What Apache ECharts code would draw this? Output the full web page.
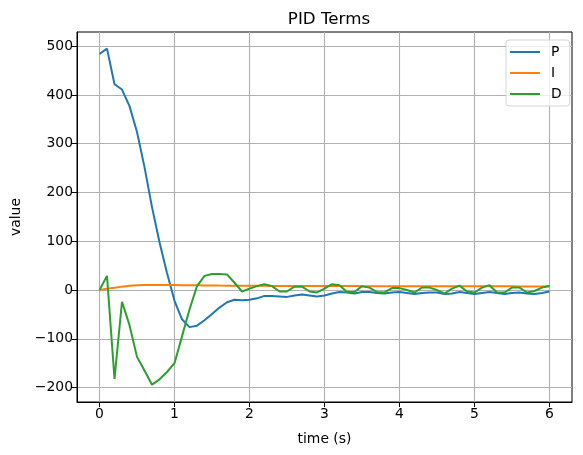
<!DOCTYPE html>
<html>
  <head>
    <meta charset="utf-8" />
    <title>PID Terms</title>
    <script src="https://cdn.jsdelivr.net/npm/echarts@6.0.0/dist/echarts.min.js"></script>
    <style>
      html, body { margin: 0; padding: 0; background: #fff; }
      #main { width: 583px; height: 455px; }
    </style>
  </head>
  <body>
    <div id="main"></div>
    <script>
      // time samples (s)
      var timeVals = [
        0.0, 0.1, 0.2, 0.3, 0.4, 0.5, 0.6, 0.7, 0.8, 0.9,
        1.0, 1.1, 1.2, 1.3, 1.4, 1.5, 1.6, 1.7, 1.8, 1.9,
        2.0, 2.1, 2.2, 2.3, 2.4, 2.5, 2.6, 2.7, 2.8, 2.9,
        3.0, 3.1, 3.2, 3.3, 3.4, 3.5, 3.6, 3.7, 3.8, 3.9,
        4.0, 4.1, 4.2, 4.3, 4.4, 4.5, 4.6, 4.7, 4.8, 4.9,
        5.0, 5.1, 5.2, 5.3, 5.4, 5.5, 5.6, 5.7, 5.8, 5.9,
        6.0
      ]
      var pVals = [
        484, 495, 422, 411, 377, 324, 252, 170, 98, 35,
        -22, -60, -76, -73, -62, -49, -36, -25, -20, -21,
        -20, -17, -12, -12, -13, -14, -11, -9, -11, -13,
        -11, -7, -4, -5, -7, -4, -4, -6, -7, -5,
        -4, -6, -8, -6, -5, -5, -8, -7, -4, -6,
        -8, -6, -4, -6, -8, -6, -5, -7, -8, -6,
        -3
      ]
      var iVals = [
        0, 2.5, 4.8, 7, 8.8, 9.8, 10.2, 10.4, 10.4, 10.3,
        10.2, 10.0, 9.8, 9.6, 9.4, 9.3, 9.1, 9.0, 8.9, 8.8,
        8.7, 8.6, 8.6, 8.5, 8.5, 8.4, 8.4, 8.3, 8.3, 8.3,
        8.2, 8.2, 8.1, 8.1, 8.1, 8.0, 8.0, 8.0, 7.9, 7.9,
        7.9, 7.9, 7.8, 7.8, 7.8, 7.8, 7.7, 7.7, 7.7, 7.7,
        7.7, 7.6, 7.6, 7.6, 7.6, 7.6, 7.5, 7.5, 7.5, 7.5,
        7.5
      ]
      var dVals = [
        0, 29, -182, -24, -72, -137, -165, -194, -183, -168,
        -150, -95, -40, 8, 29, 33, 33, 32, 15, -3,
        3, 8, 12, 8, -3, -3, 7, 7, -3, -5,
        3, 12, 10, -4, -4, 8, 5, -4, -5, 4,
        4, 0, -5, 5, 5, 0, -7, 3, 9, -3,
        -5, 5, 10, -5, -5, 5, 5, -5, -2, 5,
        9
      ]
      var xTicks = [0, 1, 2, 3, 4, 5, 6]
      var yTicks = [-200, -100, 0, 100, 200, 300, 400, 500]

      function pairs(ys) {
        var out = []
        for (var i = 0; i < timeVals.length; i++) out.push([timeVals[i], ys[i]])
        return out
      }

      var font = 'DejaVu Sans'
      var myChart = echarts.init(document.getElementById('main'), null, { renderer: 'canvas' })

      var option = {
        animation: false,
        backgroundColor: '#fff',
        title: {
          text: 'PID Terms',
          left: 324,
          top: 6,
          textAlign: 'center',
          textStyle: { fontFamily: font, fontSize: 16.7, fontWeight: 'normal', color: '#000' }
        },
        grid: {
          left: 77, right: 11, top: 32, bottom: 53,
          outerBoundsMode: 'none',
          containLabel: false,
          show: true, borderColor: '#000', borderWidth: 1, backgroundColor: 'transparent'
        },
        legend: {
          orient: 'vertical',
          left: 506,
          top: 40,
          padding: [4, 8, 4, 4],
          itemGap: 5,
          itemWidth: 30,
          itemHeight: 2,
          icon: 'rect',
          backgroundColor: 'rgba(255,255,255,0.8)',
          borderColor: '#d5d5d5',
          borderWidth: 1,
          borderRadius: 3,
          textStyle: { fontFamily: font, fontSize: 13.9, color: '#000', padding: [0, 0, 0, 6], lineHeight: 16 },
          data: ['P', 'I', 'D']
        },
        xAxis: {
          type: 'value',
          min: -0.3,
          max: 6.3,
          name: 'time (s)',
          nameLocation: 'middle',
          nameGap: 30,
          nameTextStyle: { fontFamily: font, fontSize: 13.9, color: '#000' },
          axisLine: { show: true, onZero: false, lineStyle: { color: '#000', width: 1 } },
          axisTick: { show: true, length: 5, customValues: xTicks, lineStyle: { color: '#000', width: 1 } },
          axisLabel: { customValues: xTicks, margin: 5, fontFamily: font, fontSize: 13.9, color: '#000' },
          splitLine: { show: true, lineStyle: { color: '#b0b0b0', width: 1.1 } }
        },
        yAxis: {
          type: 'value',
          min: -229.5,
          max: 529,
          name: 'value',
          nameLocation: 'middle',
          nameGap: 54,
          nameRotate: 90,
          nameTextStyle: { fontFamily: font, fontSize: 13.9, color: '#000' },
          axisLine: { show: true, onZero: false, lineStyle: { color: '#000', width: 1 } },
          axisTick: { show: true, length: 5, customValues: yTicks, lineStyle: { color: '#000', width: 1 } },
          axisLabel: {
            customValues: yTicks,
            margin: 4,
            fontFamily: font,
            fontSize: 13.9,
            color: '#000',
            formatter: function (v) { return String(v).replace('-', '\u2212') }
          },
          splitLine: { show: true, lineStyle: { color: '#b0b0b0', width: 1.1 } }
        },
        series: [
          {
            name: 'P', type: 'line', data: pairs(pVals), showSymbol: false,
            color: '#1f77b4', lineStyle: { width: 2, color: '#1f77b4' }
          },
          {
            name: 'I', type: 'line', data: pairs(iVals), showSymbol: false,
            color: '#ff7f0e', lineStyle: { width: 2, color: '#ff7f0e' }
          },
          {
            name: 'D', type: 'line', data: pairs(dVals), showSymbol: false,
            color: '#2ca02c', lineStyle: { width: 2, color: '#2ca02c' }
          }
        ]
      }
      myChart.setOption(option)
    </script>
  </body>
</html>
